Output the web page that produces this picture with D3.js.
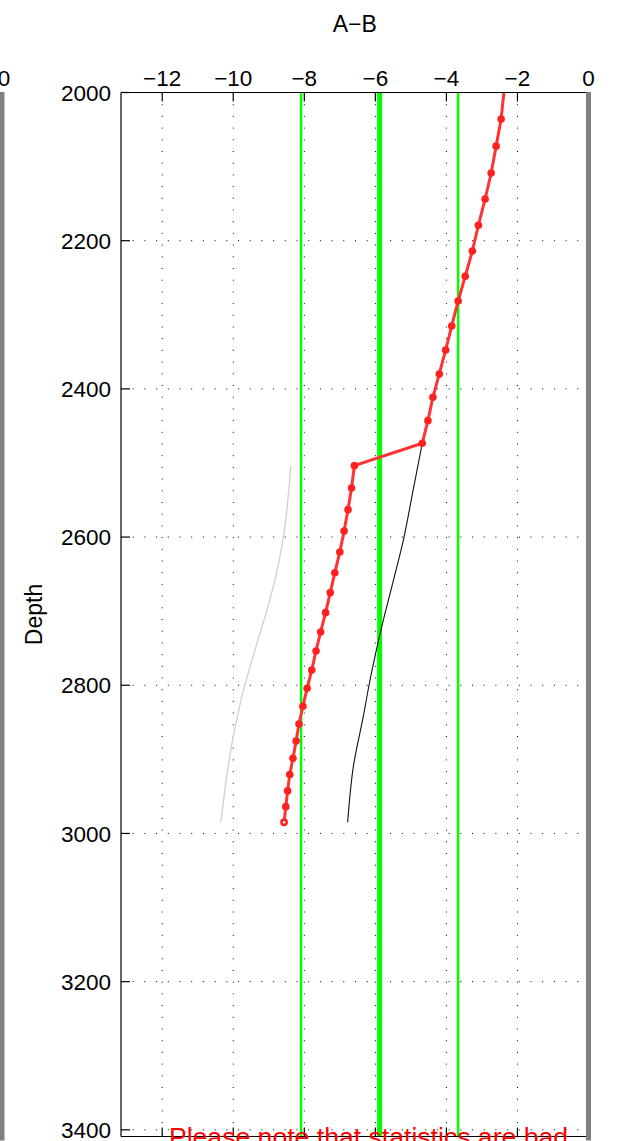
<!DOCTYPE html>
<html>
<head>
<meta charset="utf-8">
<script src="https://cdn.jsdelivr.net/npm/d3@7"></script>
<style>
  body { margin: 0; background: #fff; }
  svg { display: block; font-family: "Liberation Sans", Arial, Helvetica, sans-serif; }
</style>
</head>
<body>
<svg id="chart"></svg>
<script>
const width = 618;
const height = 1141;

// tick labels
const xTicks = [-12, -10, -8, -6, -4, -2, 0];
const yTicks = [2000, 2200, 2400, 2600, 2800, 3000, 3200, 3400];

// red series (A-B)
const redDepth = [1990, 2035.8, 2072.4, 2108.6, 2143.7, 2179.2, 2213.9, 2248.0, 2281.4, 2315.1, 2347.5,
    2379.9, 2411.3, 2442.9, 2473.4,
    2503.6, 2533.7, 2563.0, 2591.8, 2620.1, 2648.1, 2675.0, 2702.0, 2728.1, 2753.7, 2779.4,
    2804.0, 2828.3, 2852.3, 2875.2, 2898.5, 2920.6, 2942.6, 2963.8, 2984.9];
const redValue = [-2.36, -2.46, -2.60, -2.74, -2.91, -3.10, -3.27, -3.47, -3.67, -3.85, -4.02,
    -4.20, -4.38, -4.52, -4.68,
    -6.59, -6.67, -6.77, -6.88, -7.00, -7.14, -7.27, -7.40, -7.54, -7.67, -7.79,
    -7.92, -8.04, -8.15, -8.23, -8.32, -8.41, -8.47, -8.52, -8.57];

// light grey curve
const greyDepth = [2503.6, 2526.6, 2558.2, 2594.2, 2630.2, 2666.1, 2702.0, 2738.0, 2773.9, 2810.0, 2845.9, 2881.9, 2918.0, 2954.0, 2984.9];
const greyValue = [-8.38, -8.42, -8.48, -8.57, -8.70, -8.87, -9.07, -9.30, -9.52, -9.73, -9.90, -10.05, -10.17, -10.27, -10.35];

// black curve
const blackDepth = [2473.4, 2540, 2603.9, 2660, 2720.9, 2792.9, 2842.4, 2909.9, 2984.9];
const blackValue = [-4.68, -4.95, -5.21, -5.50, -5.82, -6.15, -6.34, -6.62, -6.78];

// green reference lines
const greenMean = -5.88;
const greenBounds = [-8.09, -3.67];

const pLeft = 121, pRight = 588.5, pTop = 92.5, pBottom = 1136.5;

const svg = d3.select('#chart')
    .attr('width', width)
    .attr('height', height);

const xScale = d3.scaleLinear().domain([-13.16, 0]).range([pLeft, pRight]);
const yScale = d3.scaleLinear().domain([2000, 3409]).range([pTop, pBottom]);

svg.append('defs').append('clipPath').attr('id', 'plot-clip')
    .append('rect')
    .attr('x', pLeft).attr('y', pTop)
    .attr('width', pRight - pLeft).attr('height', pBottom - pTop);

// dotted grid
const grid = svg.append('g').attr('class', 'grid')
    .attr('stroke', '#000').attr('stroke-width', 1).attr('stroke-dasharray', '1,10.7');

grid.selectAll('.vgrid')
    .data(xTicks.filter(d => d !== 0))
    .enter().append('line')
    .attr('x1', d => xScale(d)).attr('x2', d => xScale(d))
    .attr('y1', pTop).attr('y2', pBottom);

grid.selectAll('.hgrid')
    .data(yTicks.filter(d => d !== 2000))
    .enter().append('line')
    .attr('x1', pLeft).attr('x2', pRight)
    .attr('y1', d => yScale(d)).attr('y2', d => yScale(d));

const plot = svg.append('g').attr('clip-path', 'url(#plot-clip)');

// green lines
plot.selectAll('.green-bound')
    .data(greenBounds)
    .enter().append('line')
    .attr('x1', d => xScale(d)).attr('x2', d => xScale(d))
    .attr('y1', yScale.range()[0]).attr('y2', yScale.range()[1])
    .attr('stroke', '#00ff00').attr('stroke-width', 2.5);

plot.append('line')
    .attr('x1', xScale(greenMean)).attr('x2', xScale(greenMean))
    .attr('y1', yScale.range()[0]).attr('y2', yScale.range()[1])
    .attr('stroke', '#00ff00').attr('stroke-width', 5);

const line = d3.line()
    .x(d => xScale(d[1]))
    .y(d => yScale(d[0]));

plot.append('path')
    .datum(d3.zip(greyDepth, greyValue))
    .attr('d', line.curve(d3.curveCatmullRom))
    .attr('fill', 'none')
    .attr('stroke', '#cfcfcf')
    .attr('stroke-width', 1.3);

plot.append('path')
    .datum(d3.zip(blackDepth, blackValue))
    .attr('d', line.curve(d3.curveCatmullRom))
    .attr('fill', 'none')
    .attr('stroke', '#111')
    .attr('stroke-width', 1.1);

const redPts = d3.zip(redDepth, redValue);
plot.append('path')
    .datum(redPts)
    .attr('d', line.curve(d3.curveLinear))
    .attr('fill', 'none')
    .attr('stroke', '#ff3333')
    .attr('stroke-width', 3);

const shown = redPts.filter(d => d[0] >= 2000);
plot.selectAll('.dot')
    .data(shown)
    .enter().append('circle')
    .attr('class', 'dot')
    .attr('cx', d => xScale(d[1]))
    .attr('cy', d => yScale(d[0]))
    .attr('r', (d, i) => i === shown.length - 1 ? 2.6 : 3.8)
    .attr('fill', (d, i) => i === shown.length - 1 ? '#fff' : '#ff2020')
    .attr('stroke', '#ff2020')
    .attr('stroke-width', (d, i) => i === shown.length - 1 ? 2.6 : 0);

// axes box and ticks
const axes = svg.append('g').attr('stroke', '#000').attr('stroke-width', 1.2);
axes.append('line').attr('x1', pLeft).attr('x2', pRight).attr('y1', pTop).attr('y2', pTop);
axes.append('line').attr('x1', pLeft).attr('x2', pRight).attr('y1', pBottom).attr('y2', pBottom);
axes.append('line').attr('x1', pLeft).attr('x2', pLeft).attr('y1', pTop).attr('y2', pBottom);

axes.selectAll('.xt-top')
    .data(xTicks)
    .enter().append('line')
    .attr('x1', d => xScale(d)).attr('x2', d => xScale(d))
    .attr('y1', pTop).attr('y2', pTop + 9);

axes.selectAll('.xt-bot')
    .data(xTicks)
    .enter().append('line')
    .attr('x1', d => xScale(d)).attr('x2', d => xScale(d))
    .attr('y1', pBottom).attr('y2', pBottom - 9);

axes.selectAll('.yt')
    .data(yTicks)
    .enter().append('line')
    .attr('x1', pLeft).attr('x2', pLeft + 9)
    .attr('y1', d => yScale(d)).attr('y2', d => yScale(d));

// grey panel edges (this one and the neighbour on the left)
svg.append('rect')
    .attr('x', pRight - 2.5).attr('y', pTop - 0.5)
    .attr('width', 5).attr('height', height - pTop)
    .attr('fill', '#808080');

svg.append('rect')
    .attr('x', 0).attr('y', pTop - 0.5)
    .attr('width', 4.5).attr('height', height - pTop)
    .attr('fill', '#808080');

const fmt = d => d < 0 ? '\u2212' + Math.abs(d) : String(d);

svg.selectAll('.xlab')
    .data(xTicks)
    .enter().append('text')
    .attr('x', d => xScale(d))
    .attr('y', pTop - 7)
    .attr('text-anchor', 'middle')
    .style('font-size', '22.5px')
    .text(fmt);

svg.append('text')
    .attr('x', 4)
    .attr('y', pTop - 7)
    .attr('text-anchor', 'middle')
    .style('font-size', '22.5px')
    .text('0');

svg.selectAll('.ylab')
    .data(yTicks)
    .enter().append('text')
    .attr('x', pLeft - 10)
    .attr('y', d => yScale(d))
    .attr('dy', '0.36em')
    .attr('text-anchor', 'end')
    .style('font-size', '22.5px')
    .text(d => d);

svg.append('text')
    .attr('x', (pLeft + pRight) / 2)
    .attr('y', 32)
    .attr('text-anchor', 'middle')
    .style('font-size', '23px')
    .text('A\u2212B');

svg.append('text')
    .attr('transform', 'translate(42,' + ((pTop + pBottom) / 2) + ') rotate(-90)')
    .attr('text-anchor', 'middle')
    .style('font-size', '23px')
    .text('Depth');

// footnote: cut off by the bottom edge, as in the original figure
svg.append('text')
    .attr('x', 368.5)
    .attr('y', 1146)
    .attr('text-anchor', 'middle')
    .style('font-size', '26.6px')
    .style('fill', '#ff0000')
    .text('Please note that statistics are bad');
</script>
</body>
</html>
